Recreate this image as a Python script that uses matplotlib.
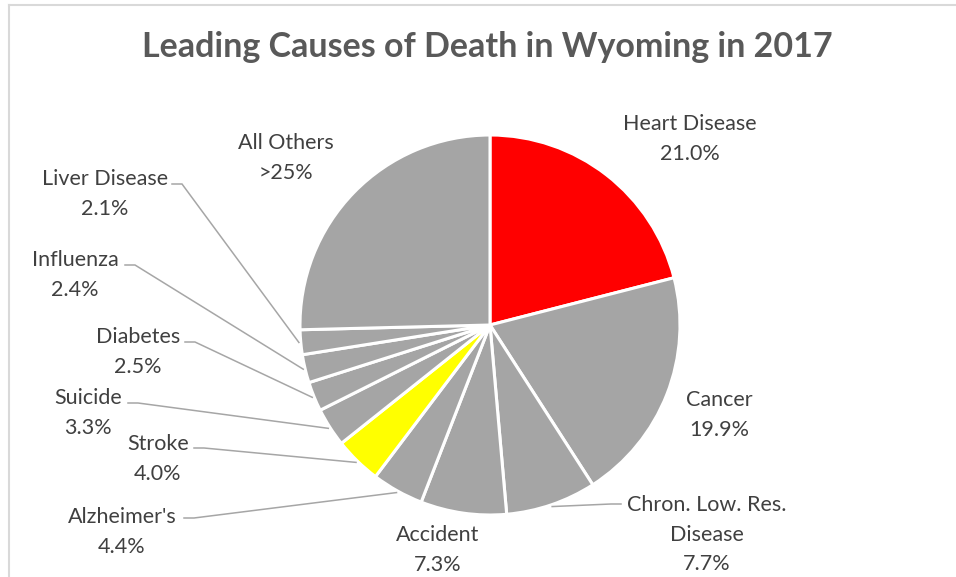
#!/usr/bin/env python3
"""
Pie chart of the leading causes of death in Wyoming, 2017.
"""

import numpy as np
import matplotlib.pyplot as plt
from matplotlib.lines import Line2D

# Data (clockwise from 12 o'clock)
causes = ["Heart Disease", "Cancer", "Chron. Low. Res.\nDisease", "Accident",
          "Alzheimer's", "Stroke", "Suicide", "Diabetes", "Influenza",
          "Liver Disease", "All Others"]
shares = [21.0, 19.9, 7.7, 7.3, 4.4, 4.0, 3.3, 2.5, 2.4, 2.1, 25.4]
share_labels = ["21.0%", "19.9%", "7.7%", "7.3%", "4.4%", "4.0%", "3.3%",
                "2.5%", "2.4%", "2.1%", ">25%"]
highlight = {"Heart Disease": "#FF0000", "Stroke": "#FFFF00"}

# Layout (pixels in the 956x577 output)
W, H = 956, 577
CX, CY, R = 490, 325, 190
# label centre x, top of first line y, leader start (x, y) or None
label_pos = [
    (690, 114, None),
    (719, 390, None),
    (707, 495, (621, 504)),
    (438, 525, None),
    (122, 507, (184, 518)),
    (158, 434, (194, 448)),
    (88, 388, (128, 403)),
    (138, 327, (185, 342)),
    (75, 250, (125, 265)),
    (105, 169, (172, 184)),
    (286, 133, None),
]

TEXT = "#404040"
GRAY = "#A5A5A5"
LEADER = "#A6A6A6"


def px(x, y):
    """Convert pixel position to data coordinates (unit pie radius)."""
    return (x - CX) / R, (CY - y) / R


plt.rcParams['font.family'] = ['Lato', 'DejaVu Sans']

fig = plt.figure(figsize=(W / 100, H / 100), dpi=100)
ax = fig.add_axes([0, 0, 1, 1])

colors = [highlight.get(c, GRAY) for c in causes]
wedges, _ = ax.pie(shares, colors=colors, startangle=90, counterclock=False,
                   radius=1.0, center=(0, 0), normalize=True,
                   wedgeprops=dict(edgecolor='white', linewidth=2.2))

# pie() resets limits, so set them afterwards
ax.set_xlim(-CX / R, (W - CX) / R)
ax.set_ylim((CY - H) / R, CY / R)
ax.set_aspect('equal')
ax.axis('off')

# Labels and leader lines
total = sum(shares)
cum = 0.0
for cause, val, lab, (lx, ly, lead) in zip(causes, shares, share_labels, label_pos):
    mid = np.deg2rad(90 - (cum + val / 2) / total * 360)
    cum += val
    tx, ty = px(lx, ly)
    ax.text(tx, ty, f"{cause}\n{lab}", ha='center', va='top', fontsize=15.5,
            color=TEXT, linespacing=1.6)
    if lead is not None:
        sx, sy = px(*lead)
        ex, ey = 1.01 * np.cos(mid), 1.01 * np.sin(mid)
        if sx < ex:
            hx = sx + 10 / R
        else:
            hx = sx - 10 / R
        ax.plot([sx, hx, ex], [sy, sy, ey], color=LEADER, linewidth=1.1,
                solid_joinstyle='miter')

fig.text(487 / W, 1 - 47 / H, "Leading Causes of Death in Wyoming in 2017",
         ha='center', va='center', fontsize=24.5, fontweight='bold',
         color='#595959')

# Chart-area border (top and left edges visible)
fig.add_artist(Line2D([8.5 / W, 8.5 / W], [0, 1 - 4.5 / H], transform=fig.transFigure,
                      color='#D9D9D9', linewidth=1.5))
fig.add_artist(Line2D([8.5 / W, 1], [1 - 4.5 / H, 1 - 4.5 / H], transform=fig.transFigure,
                      color='#D9D9D9', linewidth=1.5))

fig.savefig("out.png", dpi=100, facecolor='white')
